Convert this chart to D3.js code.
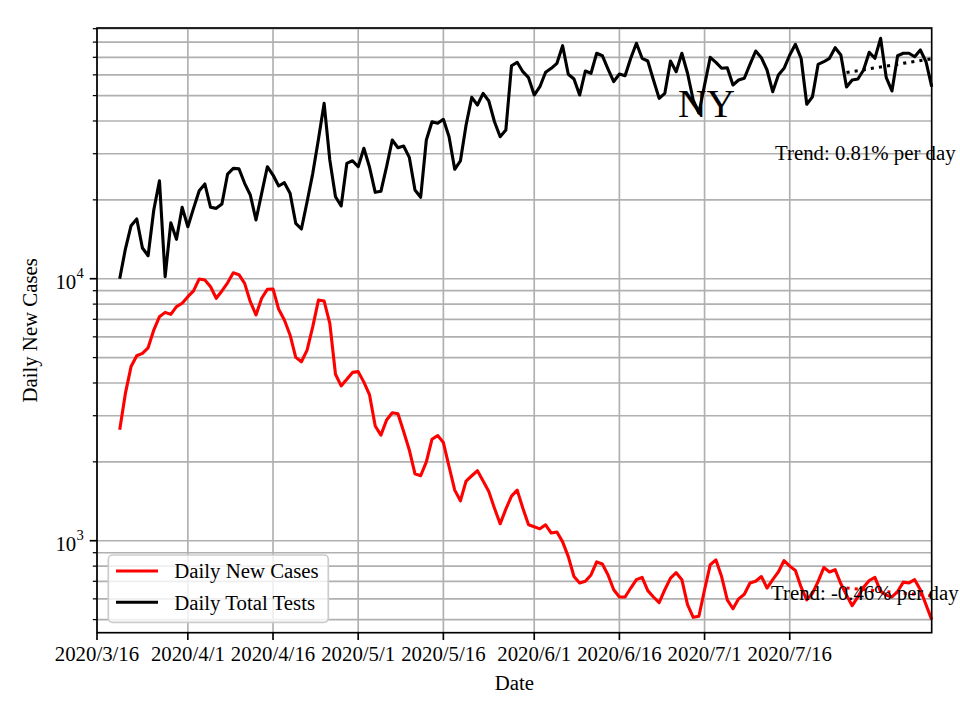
<!DOCTYPE html>
<html>
	<head>
		<meta charset="utf-8">
		<title>NY</title>
		<style>
			body { margin: 0; background: #fff; }
			svg { display: block; }
			text { font-family: "Liberation Serif", "Times New Roman", serif; fill: #000; }
		</style>
	</head>
	<body>
		<svg></svg>
		<script src="https://d3js.org/d3.v7.min.js"></script>
		<script>
			// data: one value per day, starting 2020/3/20
			var firstDay = new Date(Date.UTC(2020, 2, 20))
			var dailyCases = [
				2650, 3650, 4620, 5080, 5190, 5450, 6370, 7160, 7440, 7310,
				7820, 8060, 8540, 8980, 9980, 9890, 9320, 8420, 8980, 9650,
				10540, 10360, 9600, 8170, 7270, 8420, 9110, 9140, 7640, 6960,
				6100, 5010, 4820, 5340, 6560, 8290, 8220, 6760, 4320, 3900,
				4130, 4390, 4420, 4030, 3600, 2740, 2530, 2890, 3080, 3050,
				2610, 2220, 1800, 1770, 2000, 2440, 2520, 2370, 1920, 1560,
				1420, 1690, 1770, 1850, 1690, 1540, 1330, 1160, 1320, 1480,
				1560, 1330, 1150, 1130, 1110, 1150, 1070, 1080, 990, 870,
				730, 690, 700, 740, 830, 815, 740, 650, 610, 610,
				660, 710, 725, 645, 610, 580, 650, 720, 755, 710,
				570, 510, 515, 650, 810, 845, 730, 595, 550, 600,
				625, 690, 700, 730, 660, 710, 760, 840, 800, 770,
				665, 595, 630, 700, 790, 760, 775, 685, 620, 565,
				610, 665, 705, 725, 640, 620, 610, 640, 695, 690,
				710, 650, 570, 500
			]
			var dailyTests = [
				10000, 12980, 15930, 16900, 13100, 12240, 18290, 23660, 10180, 16360,
				14140, 18730, 15790, 18560, 21670, 22990, 18730, 18560, 19280, 25090,
				26380, 26290, 23130, 20870, 16750, 21180, 26760, 24870, 22590, 23250,
				21180, 16270, 15480, 19670, 25250, 34050, 46720, 28390, 20560, 18940,
				27570, 28210, 26760, 31470, 26620, 21370, 21560, 26760, 33840, 31620,
				32100, 29060, 21810, 20450, 33840, 39740, 39190, 40590, 34830, 26160,
				28140, 38610, 49240, 46030, 51010, 47670, 39740, 34830, 36940, 65010,
				66980, 61690, 58520, 50250, 54050, 61360, 63550, 66380, 77510, 60290,
				57850, 50250, 62060, 60820, 72510, 70990, 63150, 56490, 60440, 59540,
				69390, 79160, 69390, 67760, 57340, 48800, 51010, 67760, 61690, 72510,
				60820, 48100, 42900, 54870, 69980, 66980, 63550, 63890, 54870, 57340,
				58210, 65810, 73990, 69750, 62600, 51730, 59910, 63550, 71430, 78470,
				69390, 46310, 49500, 65810, 67340, 69390, 76160, 71430, 53910, 57340,
				57850, 62600, 73140, 69390, 82720, 58520, 52050, 70990, 72510, 72510,
				70360, 74630, 67340, 54050
			]
			// trend lines over the last two weeks (start, end)
			var trendDates = [new Date(Date.UTC(2020, 6, 26)), new Date(Date.UTC(2020, 7, 10))]
			var casesTrend = [660, 616]
			var testsTrend = [61240, 69130]
			var casesTrendLabel = "Trend: -0.46% per day"
			var testsTrendLabel = "Trend: 0.81% per day"
			// tick labels
			var xTickDates = [
				[2020, 3, 16], [2020, 4, 1], [2020, 4, 16], [2020, 5, 1], [2020, 5, 16],
				[2020, 6, 1], [2020, 6, 16], [2020, 7, 1], [2020, 7, 16]
			]
			var yMajorTicks = [1000, 10000]
			var seriesNames = ["Daily New Cases", "Daily Total Tests"]
			var seriesColors = ["#ff0000", "#000000"]

			// init vars
			var _width = 960
			var _height = 720
			var _left = 97, _right = 931.7, _top = 28, _bottom = 632.7
			var _svg = d3.select("svg").attr("width", _width).attr("height", _height)
			var fs = 20.8

			var dates = dailyCases.map(function (d, i) { return d3.utcDay.offset(firstDay, i) })

			// scales
			var x = d3.scaleUtc()
				.domain([new Date(Date.UTC(2020, 2, 16)), new Date(Date.UTC(2020, 7, 10))])
				.range([_left, _right])
			var y = d3.scaleLog()
				.domain([445.6, 90560])
				.range([_bottom, _top])

			var xTicks = xTickDates.map(function (d) { return new Date(Date.UTC(d[0], d[1] - 1, d[2])) })
			var yMinor = []
			;[100, 1000, 10000].forEach(function (p) {
				for (var k = 2; k <= 9; k++) {
					var v = k * p
					if (v >= y.domain()[0] && v <= y.domain()[1]) yMinor.push(v)
				}
			})

			// grid
			var grid = _svg.append("g").attr("stroke", "#b0b0b0").attr("stroke-width", 1.67)
			grid.selectAll(".gy").data(yMinor.concat(yMajorTicks)).enter().append("line")
				.attr("x1", _left).attr("x2", _right)
				.attr("y1", function (d) { return y(d) }).attr("y2", function (d) { return y(d) })
			grid.selectAll(".gx").data(xTicks).enter().append("line")
				.attr("y1", _top).attr("y2", _bottom)
				.attr("x1", function (d) { return x(d) }).attr("x2", function (d) { return x(d) })

			// lines
			var line = d3.line()
				.x(function (d) { return x(d[0]) })
				.y(function (d) { return y(d[1]) })
			var allSeries = [dailyCases, dailyTests]
			allSeries.forEach(function (s, i) {
				_svg.append("path")
					.datum(d3.zip(dates, s))
					.attr("d", line)
					.attr("fill", "none")
					.attr("stroke", seriesColors[i])
					.attr("stroke-width", 3.1)
					.attr("stroke-linejoin", "round")
			})

			// trend lines
			;[casesTrend, testsTrend].forEach(function (t, i) {
				_svg.append("path")
					.datum(d3.zip(trendDates, t))
					.attr("d", line)
					.attr("fill", "none")
					.attr("stroke", seriesColors[i])
					.attr("stroke-width", 3.1)
					.attr("stroke-dasharray", "3.1,5.1")
			})

			// texts
			_svg.append("text").attr("x", 775).attr("y", 159.5).style("font-size", fs + "px").text(testsTrendLabel)
			_svg.append("text").attr("x", 771).attr("y", 600).style("font-size", fs + "px").text(casesTrendLabel)
			_svg.append("text").attr("x", 706.5).attr("y", 116.5).attr("text-anchor", "middle")
				.style("font-size", "39.5px").text("NY")

			// legend
			var lg = _svg.append("g")
			lg.append("rect")
				.attr("x", 108.3).attr("y", 555).attr("width", 220).attr("height", 67.3)
				.attr("rx", 4.2)
				.attr("fill", "#fff").attr("fill-opacity", 0.8)
				.attr("stroke", "#cccccc").attr("stroke-width", 1.67)
			seriesNames.forEach(function (n, i) {
				var ly = 571 + i * 31.3
				lg.append("line")
					.attr("x1", 116).attr("x2", 158).attr("y1", ly).attr("y2", ly)
					.attr("stroke", seriesColors[i]).attr("stroke-width", 3.1)
				lg.append("text").attr("x", 174.3).attr("y", ly + 7.3)
					.style("font-size", fs + "px").text(n)
			})

			// spines
			_svg.append("rect")
				.attr("x", _left).attr("y", _top)
				.attr("width", _right - _left).attr("height", _bottom - _top)
				.attr("fill", "none").attr("stroke", "#000").attr("stroke-width", 1.67)

			// x axis ticks and labels
			var fmt = function (d) { return d.getUTCFullYear() + "/" + (d.getUTCMonth() + 1) + "/" + d.getUTCDate() }
			var xAxis = _svg.append("g")
			xAxis.selectAll("line").data(xTicks).enter().append("line")
				.attr("x1", function (d) { return x(d) }).attr("x2", function (d) { return x(d) })
				.attr("y1", _bottom).attr("y2", _bottom + 7.3)
				.attr("stroke", "#000").attr("stroke-width", 1.67)
			xAxis.selectAll("text").data(xTicks).enter().append("text")
				.attr("x", function (d) { return x(d) }).attr("y", 661)
				.attr("text-anchor", "middle")
				.style("font-size", fs + "px")
				.text(fmt)

			// y axis ticks and labels
			var yAxis = _svg.append("g")
			yAxis.selectAll(".major").data(yMajorTicks).enter().append("line")
				.attr("x1", _left - 7.3).attr("x2", _left)
				.attr("y1", function (d) { return y(d) }).attr("y2", function (d) { return y(d) })
				.attr("stroke", "#000").attr("stroke-width", 1.67)
			yAxis.selectAll(".minor").data(yMinor).enter().append("line")
				.attr("x1", _left - 4.2).attr("x2", _left)
				.attr("y1", function (d) { return y(d) }).attr("y2", function (d) { return y(d) })
				.attr("stroke", "#000").attr("stroke-width", 1.25)
			yMajorTicks.forEach(function (v) {
				var ty = y(v)
				yAxis.append("text").attr("x", 76.2).attr("y", ty + 10.5)
					.attr("text-anchor", "end").style("font-size", fs + "px").text("10")
				yAxis.append("text").attr("x", 76.4).attr("y", ty - 1)
					.style("font-size", "14.6px").text(String(Math.round(Math.log10(v))))
			})

			// axis titles
			_svg.append("text").attr("x", (_left + _right) / 2).attr("y", 690)
				.attr("text-anchor", "middle").style("font-size", fs + "px").text("Date")
			_svg.append("text")
				.attr("transform", "translate(37," + ((_top + _bottom) / 2) + ") rotate(-90)")
				.attr("text-anchor", "middle").style("font-size", fs + "px").text("Daily New Cases")
		</script>
	</body>
</html>
